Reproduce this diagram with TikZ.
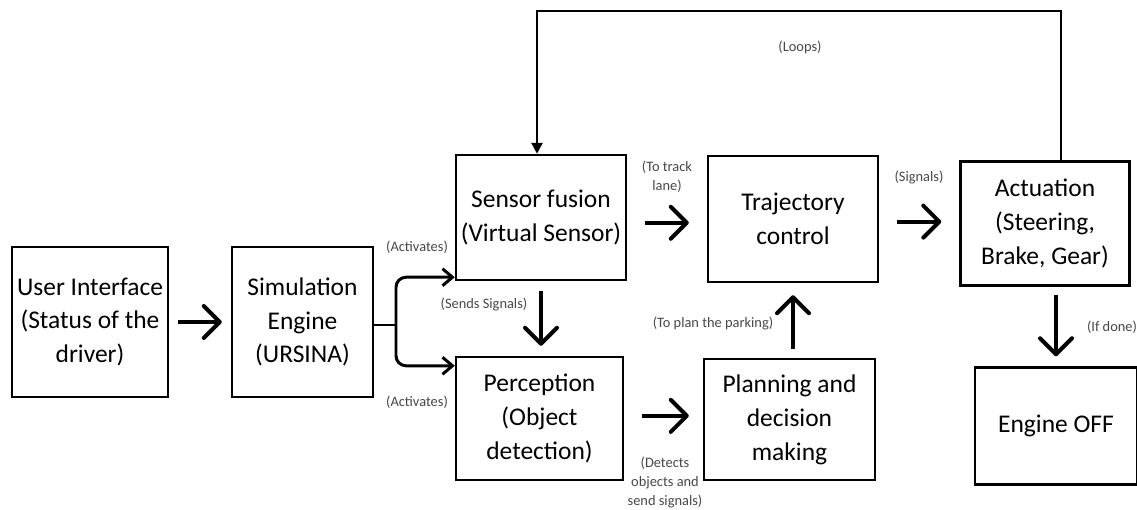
\documentclass[tikz,border=0pt]{standalone}
\usepackage{fontspec}
\setmainfont{Carlito}
\usepackage{xcolor}
\usetikzlibrary{positioning,calc}
\usetikzlibrary{arrows.meta}

\tikzset{
  block/.style={draw, line width=1.4pt, align=center, inner sep=0pt,
    font=\fontsize{14.5}{19.3}\selectfont},
  note/.style={align=center, inner sep=0pt, text=black!72,
    font=\fontsize{8.2}{10.8}\selectfont},
  bigarrow/.style={line width=2.3pt, -{Straight Barb[length=0.32cm,width=0.64cm,round]},
    shorten <=0.36cm, shorten >=0.36cm},
  forkarrow/.style={line width=1.7pt, rounded corners=0.2cm,
    -{Straight Barb[length=0.2cm,width=0.34cm]}},
  looparrow/.style={line width=1.5pt, -{Triangle[length=0.22cm,width=0.22cm]}}
}

\begin{document}
\begin{tikzpicture}[x=0.02cm, y=-0.02cm]
    \useasboundingbox (0,0) rectangle (1137,510);
    % blocks
    \node[block, minimum width=3.12cm, minimum height=3.0cm] (ui) at (90,322)
        {User Interface\\(Status of the\\driver)};
    \node[block, minimum width=2.82cm, minimum height=3.0cm] (sim) at (302.5,322)
        {Simulation\\Engine\\(URSINA)};
    \node[block, minimum width=3.4cm, minimum height=2.5cm] (fusion) at (541,217.5)
        {Sensor fusion\\(Virtual Sensor)};
    \node[block, minimum width=3.34cm, minimum height=2.46cm] (percep) at (539.5,418.5)
        {Perception\\(Object\\detection)};
    \node[block, minimum width=3.4cm, minimum height=2.52cm] (traj) at (793,219)
        {Trajectory\\control};
    \node[block, minimum width=3.42cm, minimum height=2.42cm] (plan) at (789.5,419.5)
        {Planning and\\decision\\making};
    \node[block, minimum width=3.38cm, minimum height=2.48cm] (act) at (1045,223.5)
        {Actuation\\(Steering,\\Brake, Gear)};
    \node[block, minimum width=3.24cm, minimum height=2.34cm] (off) at (1056,426)
        {Engine OFF};
    % straight arrows
    \draw[bigarrow, shorten <=0.18cm, shorten >=0.18cm] (ui) -- (sim);
    \draw[bigarrow] ([yshift=-3pt]fusion.east) -- ([yshift=-3pt]fusion.east -| traj.west);
    \draw[bigarrow] ([yshift=-1.5pt]traj.east) -- ([yshift=-1.5pt]traj.east -| act.west);
    \draw[bigarrow, shorten >=0.28cm] ([yshift=1.5pt]percep.east) -- ([yshift=1.5pt]percep.east -| plan.west);
    \draw[bigarrow, shorten <=0.18cm, shorten >=0.24cm] ([xshift=2pt]plan.north) -- ([xshift=2pt]plan.north |- traj.south);
    \draw[bigarrow, shorten <=0.2cm, shorten >=0.2cm] (fusion.south) -- (fusion.south |- percep.north);
    \draw[bigarrow, shorten <=0.16cm, shorten >=0.2cm] (off.north |- act.south) -- (off.north);
    % fork out of the engine
    \coordinate (split) at (396,325);
    \draw[line width=1.7pt] (sim.east |- split) -- (split);
    \draw[forkarrow] (split) |- ([yshift=0.08cm]fusion.south west);
    \draw[forkarrow] (split) |- ([yshift=-0.2cm]percep.north west);
    % loop back
    \coordinate (looptop) at (0,11);
    \draw[looparrow] ([xshift=0.32cm]act.north) -- ([xshift=0.32cm]act.north |- looptop)
        -| ([xshift=-0.08cm]fusion.north);
    % labels
    \node[note] (lbl1) at (417,247) {(Activates)};
    \node[note] (lbl2) at (417,402) {(Activates)};
    \node[note] (lbl3) at (484,304) {(Sends Signals)};
    \node[note] (lbl4) at (667,177) {(To track\\lane)};
    \node[note] (lbl5) at (919,177) {(Signals)};
    \node[note] (lbl6) at (713,323) {(To plan the parking)};
    \node[note] (lbl7) at (665,482) {(Detects\\objects and\\send signals)};
    \node[note] (lbl8) at (800,47) {(Loops)};
    \node[note] (lbl9) at (1112,327) {(If done)};
\end{tikzpicture}
\end{document}
